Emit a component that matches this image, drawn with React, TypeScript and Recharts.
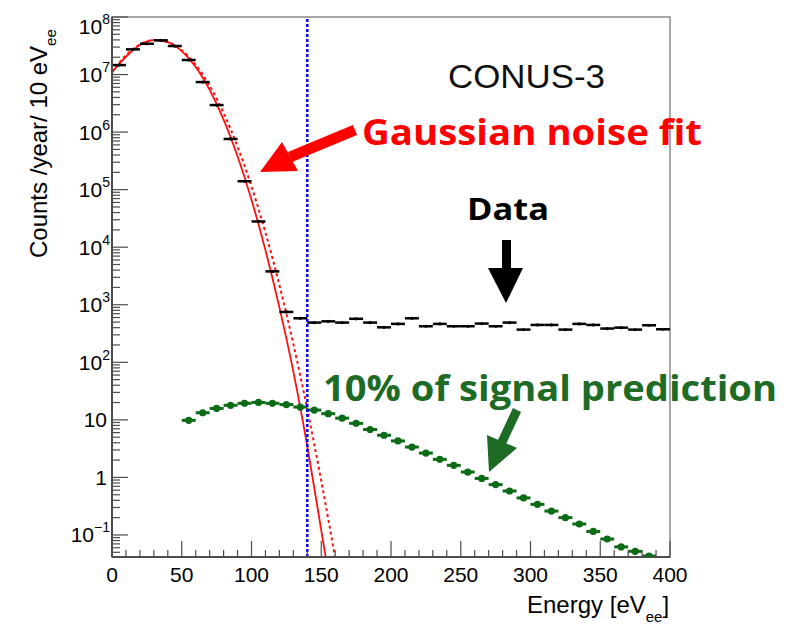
import React from 'react';
import {
  ComposedChart,
  Line,
  Scatter,
  XAxis,
  YAxis,
  ReferenceLine,
  ReferenceArea,
  ErrorBar,
} from 'recharts';

// measured spectrum, 10 eV bins (counts / year / 10 eV)
const BIN_CENTERS = [
  5, 15, 25, 35, 45, 55, 65, 75, 85, 95, 105, 115, 125, 135, 145, 155, 165, 175, 185, 195,
  205, 215, 225, 235, 245, 255, 265, 275, 285, 295, 305, 315, 325, 335, 345, 355, 365, 375, 385, 395,
];
const DATA_COUNTS = [
  1.46e7, 2.74e7, 3.43e7, 3.93e7, 3.13e7, 1.79e7, 7.4e6, 2.95e6, 7.6e5, 1.4e5, 2.8e4, 3.8e3,
  750, 582, 490, 515, 490, 570, 490, 405, 465, 582, 423, 465, 423, 423, 471, 423, 490, 370,
  446, 446, 370, 465, 446, 386, 400, 370, 440, 375,
];

// 10% of the predicted signal
const SIGNAL_CENTERS = [
  55, 65, 75, 85, 95, 105, 115, 125, 135, 145, 155, 165, 175, 185, 195, 205, 215, 225, 235, 245,
  255, 265, 275, 285, 295, 305, 315, 325, 335, 345, 355, 365, 375, 385,
];
const SIGNAL_COUNTS = [
  9.8, 13.3, 15.8, 17.9, 19.4, 20.1, 19.4, 18.4, 16.7, 14.8, 12.8, 10.7, 8.7, 6.8, 5.4, 4.3,
  3.37, 2.65, 2.06, 1.62, 1.24, 0.96, 0.75, 0.58, 0.44, 0.34, 0.26, 0.2, 0.155, 0.115, 0.085,
  0.062, 0.052, 0.043,
];

// noise fit curves
const FIT_ENERGY = [0, 10, 20, 30, 40, 50, 60, 70, 80, 90, 100, 110, 120, 130, 140, 150, 160, 170];
const FIT_SOLID = [
  1.1e7, 2.04e7, 3.26e7, 3.96e7, 3.65e7, 2.55e7, 1.35e7, 5.4e6, 1.65e6, 3.8e5, 6.7e4, 8.9e3,
  900, 69, 3.5, 0.12, 0.004, 0.0001,
];
const FIT_DASHED = [
  1.09e7, 2.16e7, 3.32e7, 3.96e7, 3.67e7, 2.64e7, 1.48e7, 6.4e6, 2.15e6, 5.6e5, 1.14e5, 1.8e4,
  2.2e3, 208, 15.3, 0.87, 0.039, 0.0013,
];

const THRESHOLD = 140;
const HALF_BIN = 5;

const X_LABELS = [0, 50, 100, 150, 200, 250, 300, 350, 400];
const Y_LABEL_VALUES = [0.1, 1, 10, 100, 1e3, 1e4, 1e5, 1e6, 1e7, 1e8];
const Y_LABEL_BASE = ['10', '1', '10', '10', '10', '10', '10', '10', '10', '10'];
const Y_LABEL_EXP = ['\u22121', '', '', '2', '3', '4', '5', '6', '7', '8'];

const Y_MIN = 0.0414;
const Y_MAX = 1e8;

const X_TICKS = Array.from({ length: 41 }, (_, i) => i * 10);
const yMinor: number[] = [];
for (let e = -2; e <= 7; e++) {
  for (let m = 2; m <= 9; m++) {
    const v = m * Math.pow(10, e);
    if (v >= Y_MIN && v <= Y_MAX) yMinor.push(v);
  }
}
const Y_TICKS = [...Y_LABEL_VALUES, ...yMinor].sort((a, b) => a - b);

const dataPoints = BIN_CENTERS.map((x, i) => ({ x, y: DATA_COUNTS[i], ex: HALF_BIN }));
const signalPoints = SIGNAL_CENTERS.map((x, i) => ({ x, y: SIGNAL_COUNTS[i], ex: HALF_BIN }));
const solidFit = FIT_ENERGY.map((x, i) => ({ x, y: FIT_SOLID[i] }));
const dashedFit = FIT_ENERGY.map((x, i) => ({ x, y: FIT_DASHED[i] }));

const FONT = '"Liberation Sans", Arial, sans-serif';
const BOLD = '"Open Sans", "Liberation Sans", sans-serif';
const AXIS = '#4d4d4d';
const GREEN = '#0c6b16';
const TEXT_GREEN = '#1e6b26';

const YTick = (props: any) => {
  const { x, y, payload } = props;
  const i = Y_LABEL_VALUES.indexOf(payload.value);
  if (i < 0) {
    return <line x1={x} x2={x + 8} y1={y} y2={y} stroke={AXIS} strokeWidth={1.2} />;
  }
  const exp = Y_LABEL_EXP[i];
  const shift = payload.value === Y_MAX ? 9 : 0;
  return (
    <g>
      <line x1={x} x2={x + 16} y1={y} y2={y} stroke={AXIS} strokeWidth={1.2} />
      <text
        x={x - (exp ? 2 : 5)}
        y={y + 7.5 + shift}
        textAnchor="end"
        fontSize={21}
        fontFamily={FONT}
        fill="#000"
      >
        {Y_LABEL_BASE[i]}
        {exp && (
          <tspan dy={-10} fontSize={14}>
            {exp}
          </tspan>
        )}
      </text>
    </g>
  );
};

const XTick = (props: any) => {
  const { x, y, payload } = props;
  const major = X_LABELS.includes(payload.value);
  return (
    <g>
      <line x1={x} x2={x} y1={y} y2={y - (major ? 16 : 7)} stroke={AXIS} strokeWidth={1.2} />
      {major && (
        <text x={x} y={y + 25} textAnchor="middle" fontSize={21} fontFamily={FONT} fill="#000">
          {payload.value}
        </text>
      )}
    </g>
  );
};

const dataMark = (p: any) => <circle cx={p.cx} cy={p.cy} r={1.6} fill="#000" />;
const signalMark = (p: any) => <circle cx={p.cx} cy={p.cy} r={3.6} fill={GREEN} />;

export default function App() {
  return (
    <div style={{ position: 'absolute', left: 0, top: 0, width: 786, height: 625, background: '#fff' }}>
      <ComposedChart width={786} height={625} margin={{ top: 17, right: 116, bottom: 38, left: 52 }}>
        <XAxis
          dataKey="x"
          type="number"
          domain={[0, 400]}
          allowDataOverflow
          ticks={X_TICKS}
          interval={0}
          tick={<XTick />}
          tickLine={false}
          tickSize={0}
          tickMargin={0}
          height={30}
          axisLine={{ stroke: AXIS, strokeWidth: 2 }}
        />
        <YAxis
          dataKey="y"
          type="number"
          scale="log"
          domain={[Y_MIN, Y_MAX]}
          allowDataOverflow
          ticks={Y_TICKS}
          interval={0}
          tick={<YTick />}
          tickLine={false}
          tickSize={0}
          tickMargin={0}
          width={60}
          axisLine={{ stroke: AXIS, strokeWidth: 2 }}
        />
        <ReferenceArea
          x1={0}
          x2={400}
          y1={Y_MIN}
          y2={Y_MAX}
          fill="none"
          stroke="#8a8a8a"
          strokeWidth={1.5}
        />
        <Line
          data={dashedFit}
          dataKey="y"
          type="monotone"
          stroke="#ff1010"
          strokeWidth={2}
          strokeDasharray="3 3"
          dot={false}
          isAnimationActive={false}
        />
        <Line
          data={solidFit}
          dataKey="y"
          type="monotone"
          stroke="#ff1010"
          strokeWidth={1.8}
          dot={false}
          isAnimationActive={false}
        />
        <Scatter data={dataPoints} dataKey="y" shape={dataMark} isAnimationActive={false}>
          <ErrorBar dataKey="ex" direction="x" width={0} stroke="#000" strokeWidth={2.5} />
        </Scatter>
        <Scatter data={signalPoints} dataKey="y" shape={signalMark} isAnimationActive={false}>
          <ErrorBar dataKey="ex" direction="x" width={0} stroke={GREEN} strokeWidth={3} />
        </Scatter>
        <ReferenceLine x={THRESHOLD} stroke="#0000ff" strokeWidth={2.5} strokeDasharray="3 2" />
      </ComposedChart>

      <svg
        width={786}
        height={625}
        style={{ position: 'absolute', left: 0, top: 0, pointerEvents: 'none' }}
      >
        <text
          x={448}
          y={88}
          fontSize={33}
          fontFamily={FONT}
          fill="#111"
          textLength={157}
          lengthAdjust="spacingAndGlyphs"
        >
          CONUS-3
        </text>

        <text
          x={362}
          y={145}
          fontSize={35}
          fontWeight={700}
          fontFamily={BOLD}
          fill="#ff0000"
          textLength={340}
          lengthAdjust="spacingAndGlyphs"
        >
          Gaussian noise fit
        </text>
        <line x1={290} y1={157} x2={355} y2={130} stroke="#ff0000" strokeWidth={11} />
        <polygon points="260,172 282,142 298,171" fill="#ff0000" />

        <text
          x={467}
          y={220}
          fontSize={31}
          fontWeight={700}
          fontFamily={BOLD}
          fill="#000"
          textLength={82}
          lengthAdjust="spacingAndGlyphs"
        >
          Data
        </text>
        <rect x={502} y={240} width={9} height={29} fill="#000" />
        <polygon points="488,268 523,268 506,303" fill="#000" />

        <text
          x={323}
          y={401}
          fontSize={35}
          fontWeight={700}
          fontFamily={BOLD}
          fill={TEXT_GREEN}
          textLength={454}
          lengthAdjust="spacingAndGlyphs"
        >
          10% of signal prediction
        </text>
        <line x1={502} y1={442} x2={517} y2={410} stroke={TEXT_GREEN} strokeWidth={9} />
        <polygon points="489,472 487,435 517,448" fill={TEXT_GREEN} />

        <text
          transform="translate(47,258) rotate(-90)"
          fontSize={24}
          fontFamily={FONT}
          fill="#000"
        >
          Counts /year/ 10 eV
          <tspan dy={9} fontSize={15}>
            ee
          </tspan>
        </text>

        <text x={527} y={613} fontSize={24} fontFamily={FONT} fill="#000">
          Energy [eV
          <tspan dy={9} fontSize={15}>
            ee
          </tspan>
          <tspan dy={-9}>]</tspan>
        </text>
      </svg>
    </div>
  );
}
